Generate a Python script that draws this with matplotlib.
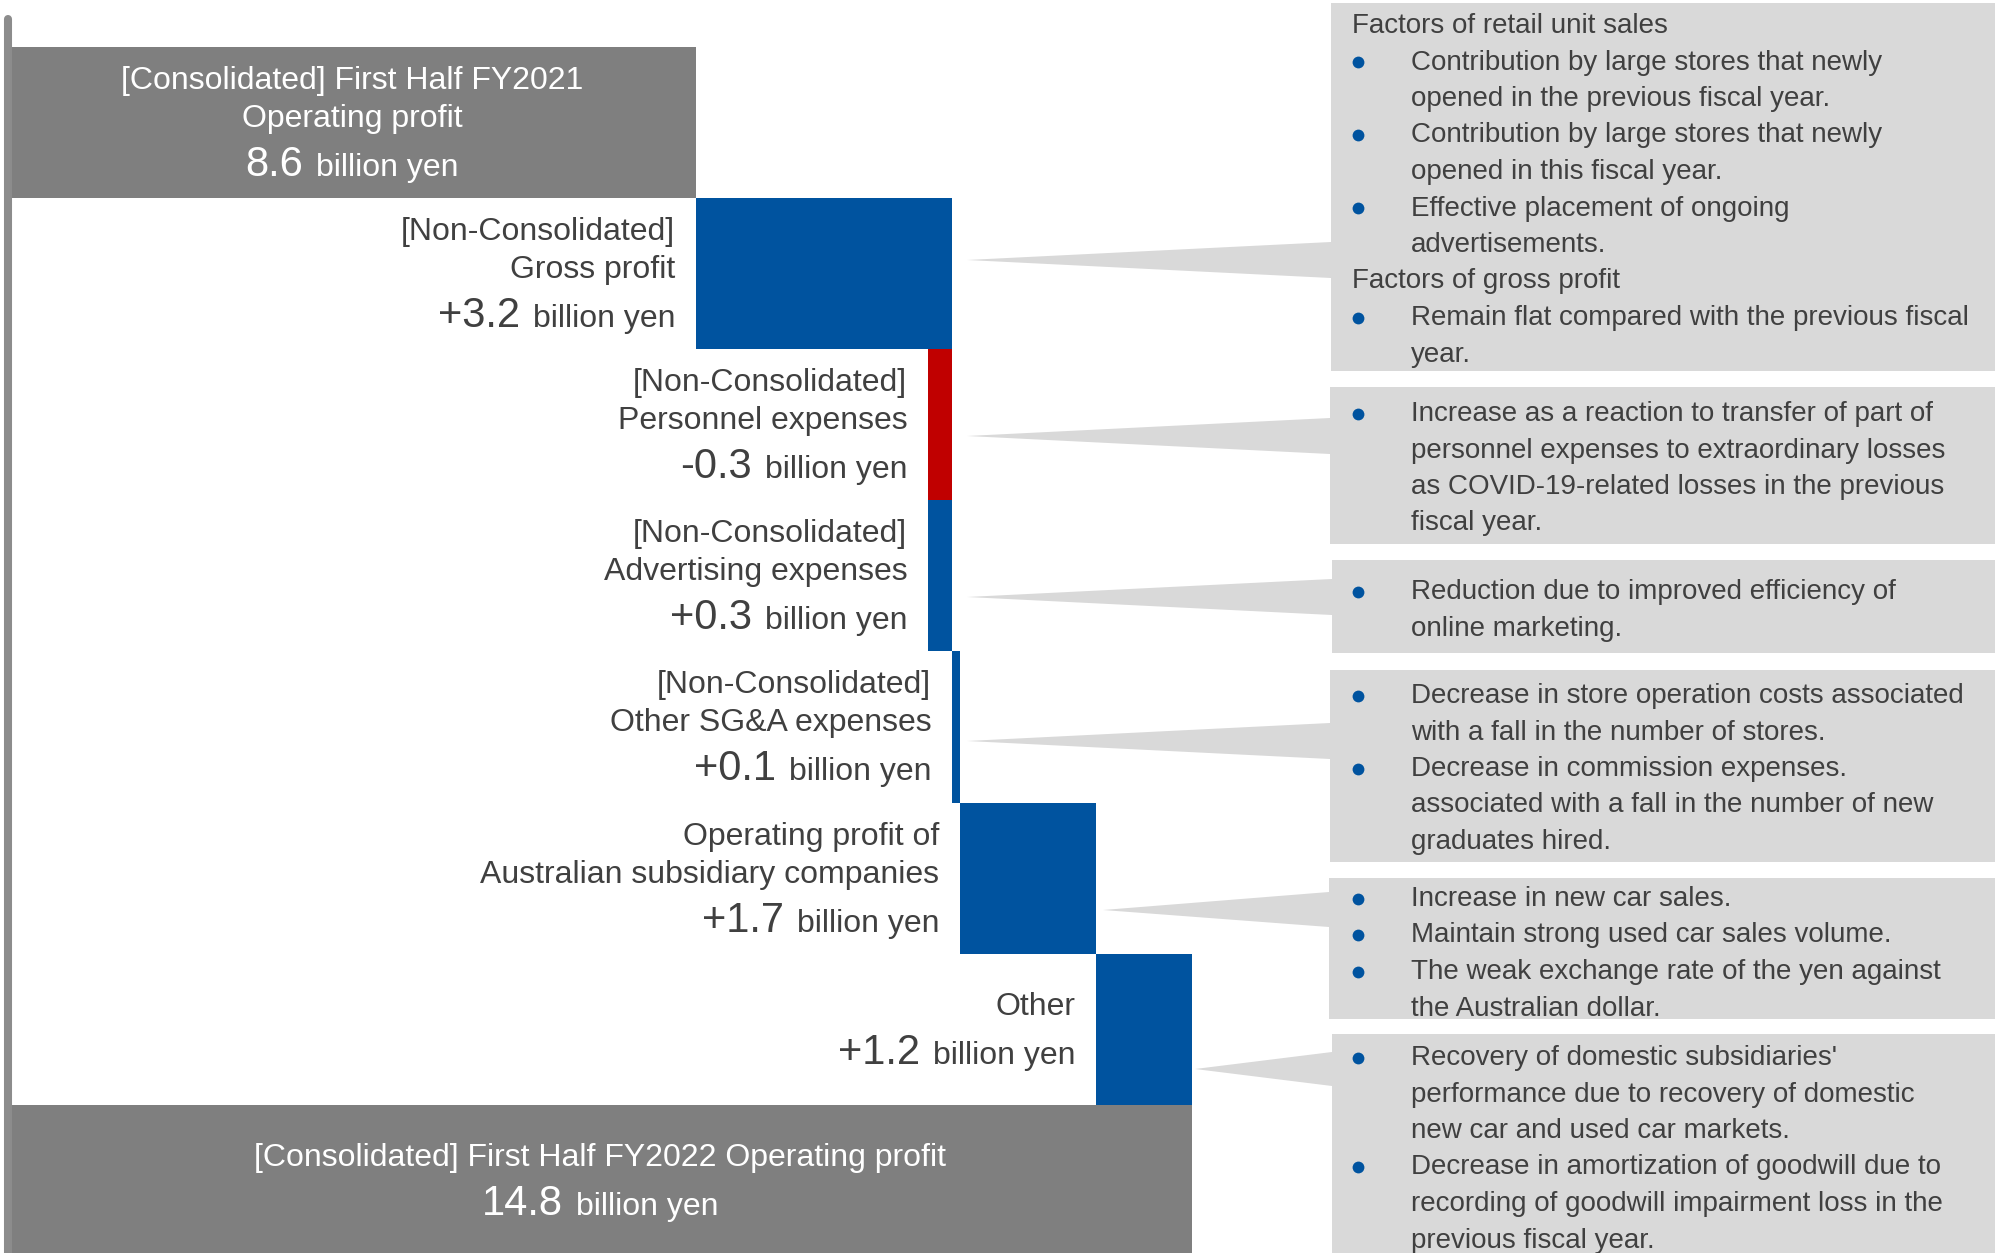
import matplotlib
matplotlib.use('Agg')
import matplotlib.pyplot as plt
import matplotlib.transforms as mtransforms
from matplotlib.patches import Polygon

plt.rcParams['font.family'] = ['Liberation Sans', 'DejaVu Sans']

# ── Operating profit bridge (billion yen) ──────────────────────────────
start_label = ['[Consolidated] First Half FY2021', 'Operating profit']
start_value = 8.6
end_label = ['[Consolidated] First Half FY2022 Operating profit']
end_value = 14.8

step_labels = [
    ['[Non-Consolidated]', 'Gross profit'],
    ['[Non-Consolidated]', 'Personnel expenses'],
    ['[Non-Consolidated]', 'Advertising expenses'],
    ['[Non-Consolidated]', 'Other SG&A expenses'],
    ['Operating profit of', 'Australian subsidiary companies'],
    ['Other'],
]
step_values = [3.2, -0.3, 0.3, 0.1, 1.7, 1.2]

# factor notes per step: 'h' = heading, 'b' = bullet, '' = continuation
notes_gross = [
    ('h', 'Factors of retail unit sales'),
    ('b', 'Contribution by large stores that newly'),
    ('', 'opened in the previous fiscal year.'),
    ('b', 'Contribution by large stores that newly'),
    ('', 'opened in this fiscal year.'),
    ('b', 'Effective placement of ongoing'),
    ('', 'advertisements.'),
    ('h', 'Factors of gross profit'),
    ('b', 'Remain flat compared with the previous fiscal'),
    ('', 'year.'),
]
notes_personnel = [
    ('b', 'Increase as a reaction to transfer of part of'),
    ('', 'personnel expenses to extraordinary losses'),
    ('', 'as COVID-19-related losses in the previous'),
    ('', 'fiscal year.'),
]
notes_advertising = [
    ('b', 'Reduction due to improved efficiency of'),
    ('', 'online marketing.'),
]
notes_sga = [
    ('b', 'Decrease in store operation costs associated'),
    ('', 'with a fall in the number of stores.'),
    ('b', 'Decrease in commission expenses.'),
    ('', 'associated with a fall in the number of new'),
    ('', 'graduates hired.'),
]
notes_australia = [
    ('b', 'Increase in new car sales.'),
    ('b', 'Maintain strong used car sales volume.'),
    ('b', 'The weak exchange rate of the yen against'),
    ('', 'the Australian dollar.'),
]
notes_other = [
    ('b', "Recovery of domestic subsidiaries'"),
    ('', 'performance due to recovery of domestic'),
    ('', 'new car and used car markets.'),
    ('b', 'Decrease in amortization of goodwill due to'),
    ('', 'recording of goodwill impairment loss in the'),
    ('', 'previous fiscal year.'),
]
step_notes = [notes_gross, notes_personnel, notes_advertising,
              notes_sga, notes_australia, notes_other]

BLUE = '#00539F'
RED = '#C00000'
GRAY = '#7F7F7F'
AXIS_GRAY = '#8C8C8C'
PANEL = '#D9D9D9'
TEXT = '#404040'

W, H = 1995, 1253
fig = plt.figure(figsize=(W / 100, H / 100), dpi=100)
ax = fig.add_axes([0, 0, 1, 1])
ax.axis('off')

# x: 80 px per billion yen with zero at px 8; y: one row per bar
X0_PX, PX_PER_UNIT = 8, 80
ROW_TOP_PX, ROW_PX = 47, 151.1
ax.set_xlim(-X0_PX / PX_PER_UNIT, (W - X0_PX) / PX_PER_UNIT)
ax.set_ylim((H - ROW_TOP_PX) / ROW_PX - 0.5, -ROW_TOP_PX / ROW_PX - 0.5)

# pixel coordinates with origin at top-left, for the note panels
px = mtransforms.Affine2D().scale(1 / W, -1 / H).translate(0, 1) + fig.transFigure

# ── bars ──
n_steps = len(step_values)
ax.barh(0, start_value, left=0, height=1, color=GRAY, lw=0)
running = start_value
step_left = []
for i, v in enumerate(step_values, start=1):
    ax.barh(i, v, left=running, height=1, color=BLUE if v > 0 else RED, lw=0)
    step_left.append(min(running, running + v))
    running += v
ax.barh(n_steps + 1, end_value, left=0, height=1, color=GRAY, lw=0)

# vertical baseline on the left
ax.plot([0, 0], [-0.685, n_steps + 2], color=AXIS_GRAY, lw=5.8,
        solid_capstyle='round', clip_on=False, zorder=5)

# ── labels ──
renderer = fig.canvas.get_renderer()
inv = ax.transData.inverted()


def label_block(x, row, lines, value, ha, color):
    n = len(lines)
    first = 85.5 - (38 * (n - 1) + 49) / 2
    top = row - 0.5
    for k, line in enumerate(lines):
        y = top + (first + 38 * k) / ROW_PX
        ax.text(x, y, line, fontsize=23, color=color, ha=ha, va='baseline')
    y = top + (first + 38 * (n - 1) + 49) / ROW_PX
    num = ax.text(x, y, value, fontsize=30, color=color, ha='left', va='baseline')
    unit = ax.text(x, y, 'billion yen', fontsize=23, color=color,
                   ha='left', va='baseline')
    wn = num.get_window_extent(renderer).width
    wu = unit.get_window_extent(renderer).width
    gap = 13
    xd = ax.transData.transform((x, y))[0]
    if ha == 'right':
        left = xd - (wn + gap + wu)
    else:
        left = xd - (wn + gap + wu) / 2
    num.set_x(inv.transform((left, 0))[0])
    unit.set_x(inv.transform((left + wn + gap, 0))[0])


label_block(start_value / 2, 0, start_label, f'{start_value:.1f}', 'center', 'white')
label_block(end_value / 2, n_steps + 1, end_label, f'{end_value:.1f}', 'center', 'white')
for i, (lines, v) in enumerate(zip(step_labels, step_values), start=1):
    label_block(step_left[i - 1] - 0.26, i, lines, f'{v:+.1f}', 'right', TEXT)

# ── note panels with pointers ──
# (left, top, bottom, tip_x, tip_y, base_top, base_bottom, first_baseline)
panel_layout = [
    (1331, 3, 371, 967, 260, 242, 278, 33),
    (1330, 387, 544, 967, 436, 418, 454, 421),
    (1332, 560, 653, 967, 597, 579, 615, 599),
    (1330, 670, 862, 967, 741, 723, 759, 703),
    (1329, 878, 1019, 1103, 910, 892, 927, 906),
    (1332, 1034, 1260, 1195, 1069, 1052, 1086, 1065),
]
LINE_PX = 36.5
for notes, (left, top, bottom, tx, ty, bt, bb, base0) in zip(step_notes, panel_layout):
    shape = [(left, top), (W + 5, top), (W + 5, bottom), (left, bottom),
             (left, bb), (tx, ty), (left, bt)]
    ax.add_patch(Polygon(shape, closed=True, transform=px, facecolor=PANEL,
                         edgecolor='none', clip_on=False, zorder=1))
    for k, (kind, line) in enumerate(notes):
        y = base0 + LINE_PX * k
        x = 1352 if kind == 'h' else 1411
        ax.text(x, y, line, transform=px, fontsize=20, color=TEXT,
                ha='left', va='baseline', zorder=3)
        if kind == 'b':
            ax.plot(1358, y - 7.5, 'o', transform=px, ms=8.5, color=BLUE,
                    mec='none', clip_on=False, zorder=3)

fig.savefig('out.png', dpi=100, facecolor='white')
